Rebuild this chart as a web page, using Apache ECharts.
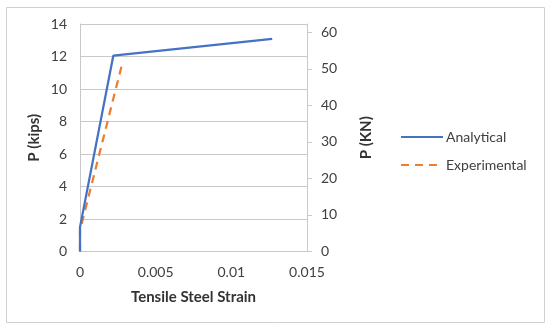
<!DOCTYPE html>
<html>
<head>
<meta charset="utf-8">
<script src="https://cdn.jsdelivr.net/npm/echarts@6/dist/echarts.min.js"></script>
<style>html,body{margin:0;padding:0;background:#fff}#c{width:550px;height:329px}</style>
</head>
<body>
<div id="c"></div>
<script>
var analyticalStrain = [0, 0, 0.0022, 0.0127];
var analyticalP = [0, 1.5, 12.05, 13.08];
var experimentalStrain = [0, 0, 0.0028];
var experimentalP = [0, 1.3, 11.6];
var xTicks = [0, 0.005, 0.01, 0.015];
var leftTicks = [0, 2, 4, 6, 8, 10, 12, 14];
var rightTicks = [0, 10, 20, 30, 40, 50, 60];
var seriesNames = ['Analytical', 'Experimental'];

function pairs(xs, ys) { return xs.map(function (x, i) { return [x, ys[i]]; }); }

var FONT = 'Lato';
var TXT = '#404040';
var chart = echarts.init(document.getElementById('c'), null, {renderer: 'canvas'});
chart.setOption({
  animation: false,
  textStyle: {fontFamily: FONT},
  graphic: [{type: 'rect', shape: {x: 6.5, y: 7.5, width: 538, height: 315}, style: {fill: 'none', stroke: '#d0d0d0', lineWidth: 1}, silent: true}],
  grid: {left: 80, top: 24, right: 243, bottom: 77.5},
  legend: {
    orient: 'vertical', left: 400, top: 130, padding: 0, itemWidth: 42, itemHeight: 14, itemGap: 14,
    itemStyle: {opacity: 0},
    textStyle: {fontFamily: FONT, fontSize: 14, color: TXT, padding: [0, 0, 0, -2]},
    data: seriesNames
  },
  xAxis: {
    type: 'value', min: xTicks[0], max: xTicks[xTicks.length - 1], interval: 0.005,
    name: 'Tensile Steel Strain', nameLocation: 'middle', nameGap: 38,
    nameTextStyle: {fontFamily: FONT, fontSize: 15, fontWeight: 'bold', color: '#333'},
    axisLine: {show: true, lineStyle: {color: '#c8c8c8', width: 1}},
    axisTick: {show: false},
    splitLine: {show: false},
    axisLabel: {fontFamily: FONT, fontSize: 14, color: TXT, margin: 14,
      formatter: function (v) { var best = xTicks.reduce(function (a, b) { return Math.abs(b - v) < Math.abs(a - v) ? b : a; }); return String(best); }}
  },
  yAxis: [{
    type: 'value', min: leftTicks[0], max: leftTicks[leftTicks.length - 1], interval: 2, position: 'left',
    name: 'P (kips)', nameLocation: 'middle', nameGap: 38, nameRotate: 90,
    nameTextStyle: {fontFamily: FONT, fontSize: 15, fontWeight: 'bold', color: '#333'},
    axisLine: {show: true, lineStyle: {color: '#c8c8c8', width: 1}},
    axisTick: {show: false},
    splitLine: {show: true, lineStyle: {color: '#c8c8c8', width: 1}},
    axisLabel: {fontFamily: FONT, fontSize: 14, color: TXT, margin: 13}
  }, {
    type: 'value', min: 0, max: 14 * 4.448, position: 'right',
    name: 'P (KN)', nameLocation: 'middle', nameGap: 52, nameRotate: 90,
    nameTextStyle: {fontFamily: FONT, fontSize: 15, fontWeight: 'bold', color: '#333'},
    axisLine: {show: true, lineStyle: {color: '#c8c8c8', width: 1}},
    axisTick: {show: true, length: 5, lineStyle: {color: '#c8c8c8'}, customValues: rightTicks},
    splitLine: {show: false},
    axisLabel: {fontFamily: FONT, fontSize: 14, color: TXT, margin: 14, customValues: rightTicks}
  }],
  series: [{
    name: seriesNames[0], type: 'line', yAxisIndex: 0, data: pairs(analyticalStrain, analyticalP),
    symbol: 'none', lineStyle: {color: '#4472C4', width: 2.25}, itemStyle: {color: '#4472C4'}, z: 3
  }, {
    name: seriesNames[1], type: 'line', yAxisIndex: 0, data: pairs(experimentalStrain, experimentalP),
    symbol: 'none', lineStyle: {color: '#ED7D31', width: 2.25, type: [8, 6]}, itemStyle: {color: '#ED7D31'}, z: 2
  }]
});
</script>
</body>
</html>
